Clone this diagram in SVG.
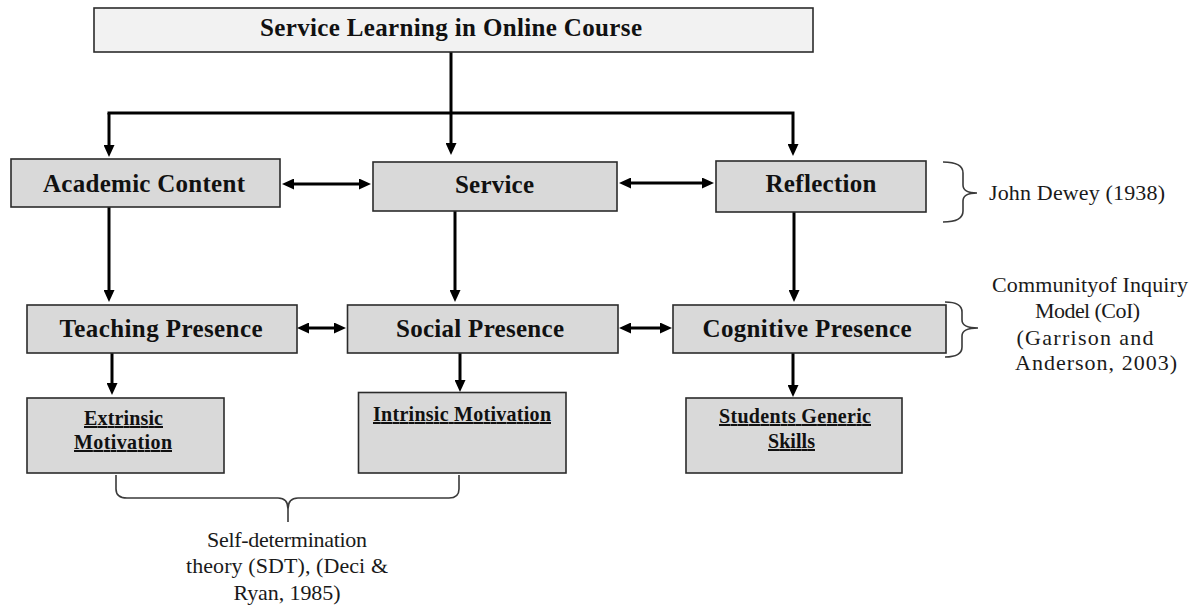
<svg xmlns="http://www.w3.org/2000/svg" width="1193" height="607" viewBox="0 0 1193 607">
  <style>
    .box { fill: #d9d9d9; stroke: #2b2b2b; stroke-width: 1.6; }
    .top { fill: #f2f2f2; }
    .lbl { font-family: "Liberation Serif", "Times New Roman", serif; font-weight: bold; font-size: 25px; fill: #111; text-anchor: middle; }
    .sub { font-family: "Liberation Serif", "Times New Roman", serif; font-weight: bold; font-size: 20px; fill: #111; text-anchor: middle; text-decoration: underline; }
    .note { font-family: "Liberation Serif", "Times New Roman", serif; font-size: 22px; fill: #1a1a1a; }
    .mid { text-anchor: middle; }
    .conn { fill: none; stroke: #000; stroke-width: 3; }
    .brace { fill: none; stroke: #3a3a3a; stroke-width: 1.6; }
  </style>
  <defs>
    <marker id="head" viewBox="0 0 12 11" refX="2" refY="5.5" markerWidth="12" markerHeight="11" markerUnits="userSpaceOnUse" orient="auto-start-reverse">
      <path d="M0,0 L12,5.5 L0,11 z" fill="#000"/>
    </marker>
  </defs>

  <!-- connectors -->
  <g id="connectors">
    <path class="conn" d="M451,52 L451,145" marker-end="url(#head)"/>
    <path class="conn" d="M109,113 L109,147" marker-end="url(#head)"/>
    <path class="conn" d="M107.5,113 L793,113 L793,146" marker-end="url(#head)"/>
    <path class="conn" d="M292,184 L361,184" marker-start="url(#head)" marker-end="url(#head)"/>
    <path class="conn" d="M629,183 L704,183" marker-start="url(#head)" marker-end="url(#head)"/>
    <path class="conn" d="M109,207 L109,292" marker-end="url(#head)"/>
    <path class="conn" d="M455,211 L455,292" marker-end="url(#head)"/>
    <path class="conn" d="M794,212 L794,292" marker-end="url(#head)"/>
    <path class="conn" d="M307,328 L336,328" marker-start="url(#head)" marker-end="url(#head)"/>
    <path class="conn" d="M629,328 L662,328" marker-start="url(#head)" marker-end="url(#head)"/>
    <path class="conn" d="M112,353 L112,385" marker-end="url(#head)"/>
    <path class="conn" d="M460,353 L460,382" marker-end="url(#head)"/>
    <path class="conn" d="M793,353 L793,387" marker-end="url(#head)"/>
  </g>

  <!-- nodes -->
  <g id="service-learning">
    <rect class="box top" x="94" y="8" width="719" height="44"/>
    <text class="lbl" x="451" y="36" textLength="382" lengthAdjust="spacing">Service Learning in Online Course</text>
  </g>
  <g id="academic-content">
    <rect class="box" x="11" y="159" width="269" height="48"/>
    <text class="lbl" x="144" y="192" textLength="202" lengthAdjust="spacing">Academic Content</text>
  </g>
  <g id="service">
    <rect class="box" x="373" y="162" width="244" height="49"/>
    <text class="lbl" x="494.5" y="193" textLength="79" lengthAdjust="spacing">Service</text>
  </g>
  <g id="reflection">
    <rect class="box" x="716" y="161" width="210" height="51"/>
    <text class="lbl" x="821" y="192" textLength="111" lengthAdjust="spacing">Reflection</text>
  </g>
  <g id="teaching-presence">
    <rect class="box" x="27" y="305" width="270" height="48"/>
    <text class="lbl" x="161" y="337" textLength="203" lengthAdjust="spacing">Teaching Presence</text>
  </g>
  <g id="social-presence">
    <rect class="box" x="347.5" y="305" width="270.5" height="48"/>
    <text class="lbl" x="480" y="337" textLength="168" lengthAdjust="spacing">Social Presence</text>
  </g>
  <g id="cognitive-presence">
    <rect class="box" x="673" y="305" width="273" height="48"/>
    <text class="lbl" x="807" y="337" textLength="209" lengthAdjust="spacing">Cognitive Presence</text>
  </g>
  <g id="extrinsic-motivation">
    <rect class="box" x="27" y="398" width="197" height="75"/>
    <text class="sub" x="123.5" y="425" textLength="79" lengthAdjust="spacing">Extrinsic</text>
    <text class="sub" x="123" y="449" textLength="98" lengthAdjust="spacing">Motivation</text>
  </g>
  <g id="intrinsic-motivation">
    <rect class="box" x="358.5" y="392.5" width="207.5" height="80.5"/>
    <text class="sub" x="462" y="421" textLength="178" lengthAdjust="spacing">Intrinsic Motivation</text>
  </g>
  <g id="generic-skills">
    <rect class="box" x="686" y="398" width="216" height="75"/>
    <text class="sub" x="795" y="423" textLength="152" lengthAdjust="spacing">Students Generic</text>
    <text class="sub" x="791.5" y="448" textLength="47" lengthAdjust="spacing">Skills</text>
  </g>

  <!-- theory annotations -->
  <g id="dewey">
    <path class="brace" d="M943,162 Q963,162 963,173 L963,185 Q963,193 977,193 Q963,193 963,201 L963,211 Q963,222 943,222"/>
    <text class="note" x="989" y="200" textLength="176" lengthAdjust="spacing">John Dewey (1938)</text>
  </g>
  <g id="coi">
    <path class="brace" d="M945,302 Q962,302 962,312 L962,320 Q962,328 978,328 Q962,328 962,336 L962,347 Q962,357 945,357"/>
    <text class="note mid" x="1090" y="292" textLength="196" lengthAdjust="spacing">Communityof Inquiry</text>
    <text class="note mid" x="1087.5" y="318" textLength="105" lengthAdjust="spacing">Model (CoI)</text>
    <text class="note mid" x="1085" y="345" textLength="137" lengthAdjust="spacing">(Garrison and</text>
    <text class="note mid" x="1096" y="370" textLength="162" lengthAdjust="spacing">Anderson, 2003)</text>
  </g>
  <g id="sdt">
    <path class="brace" d="M116,475 L116,489 Q116,498 127,498 L278,498 Q288,498 288,509 L288,522 M288,509 Q288,498 298,498 L449,498 Q459,498 459,489 L459,475"/>
    <text class="note mid" x="287" y="547" textLength="160" lengthAdjust="spacing">Self-determination</text>
    <text class="note mid" x="287" y="573" textLength="202" lengthAdjust="spacing">theory (SDT), (Deci &amp;</text>
    <text class="note mid" x="287" y="600" textLength="107" lengthAdjust="spacing">Ryan, 1985)</text>
  </g>
</svg>
